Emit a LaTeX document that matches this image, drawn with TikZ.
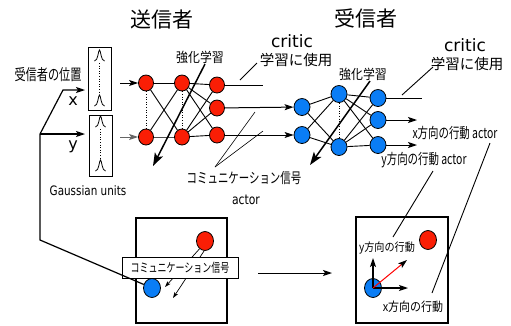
\documentclass[tikz,border=0pt]{standalone}
\usepackage{fontspec}
\usetikzlibrary{arrows.meta,shapes.geometric}
\newfontfamily\jp{Noto Sans CJK JP}
\newfontfamily\jpn[FakeStretch=0.72]{Noto Sans CJK JP}
\newfontfamily\jpm[FakeStretch=0.88]{Noto Sans CJK JP}
\newfontfamily\dv{DejaVu Sans}
\newfontfamily\dvn[FakeStretch=0.8]{DejaVu Sans}
\definecolor{nred}{RGB}{250,30,5}
\definecolor{nblue}{RGB}{10,125,245}
\newcommand{\fs}[1]{\fontsize{#1}{#1}\selectfont}
\tikzset{
  rn/.style={ellipse,draw,line width=0.8pt,fill=nred,minimum width=15pt,minimum height=16pt,inner sep=0pt},
  bn/.style={ellipse,draw,line width=0.8pt,fill=nblue,minimum width=16pt,minimum height=17pt,inner sep=0pt},
  bigred/.style={ellipse,draw,line width=0.8pt,fill=nred,minimum width=17pt,minimum height=19pt,inner sep=0pt},
  bigblue/.style={ellipse,draw,line width=0.8pt,fill=nblue,minimum width=17pt,minimum height=19pt,inner sep=0pt},
  wire/.style={line width=0.9pt},
  fine/.style={line width=0.6pt},
  arr/.style={line width=1pt,-{Stealth[length=9pt,width=6pt,inset=2pt]}},
  smallarr/.style={line width=0.7pt,-{Stealth[length=6pt,width=4pt,inset=1.5pt]}},
  bigarr/.style={line width=1.5pt,-{Stealth[length=13pt,width=9pt,inset=3pt]}},
  lbl/.style={inner sep=0pt,outer sep=0pt},
  gbox/.style={draw,line width=0.9pt,minimum width=23pt,inner sep=0pt},
  pane/.style={draw,line width=2.5pt,inner sep=0pt},
  bump/.pic={\draw[line width=0.8pt] (-5,5) .. controls (-1.5,5) and (-1.2,-6) .. (0,-6) .. controls (1.2,-6) and (1.5,5) .. (5,5);}
}
\begin{document}
\begin{tikzpicture}[x=1pt,y=-1pt]
\useasboundingbox[fill=white] (0,0) rectangle (511,325);

% titles
\node[lbl,font=\jp\fs{21}] (t1) at (162,20) {送信者};
\node[lbl,font=\jp\fs{21}] (t2) at (366,18) {受信者};

% left inputs
\node[lbl,font=\jpn\fs{15.5}] (pos) at (48,75) {受信者の位置};
\node[lbl,font=\dv\fs{16}] (lx) at (73,101) {x};
\node[lbl,font=\dv\fs{16}] (ly) at (73,147) {y};
\node[lbl,font=\dvn\fs{13}] (gu) at (88,191) {Gaussian units};

\node[gbox,minimum height=63pt] (g1) at (99.5,78.5) {};
\node[gbox,minimum height=61pt] (g2) at (100.5,145.5) {};
\pic at (99.5,56) {bump};
\pic at (99.5,101) {bump};
\draw[fine,dotted] (99.5,63) -- (99.5,94);
\pic at (100.5,122) {bump};
\pic at (100.5,166) {bump};
\draw[fine,dotted] (100.5,129) -- (100.5,158);

% sender network
\node[rn] (s11) at (146,83) {};
\node[rn] (s12) at (146,137) {};
\node[rn] (s21) at (182,83) {};
\node[rn] (s22) at (182,137) {};
\node[rn] (s31) at (217,85) {};
\node[rn] (s32) at (217,108) {};
\node[rn] (s33) at (217,135) {};

% receiver network
\node[bn] (r11) at (302,107) {};
\node[bn] (r12) at (302,135) {};
\node[bn] (r21) at (339,94) {};
\node[bn] (r22) at (339,147) {};
\node[bn] (r31) at (378,98) {};
\node[bn] (r32) at (378,120) {};
\node[bn] (r33) at (378,145) {};

% sender wires
\draw[wire] (s11) -- (s21);
\draw[wire,black!70] (s12) -- (s22);
\draw[wire] (s11) -- (s22);
\draw[wire] (s12) -- (s21);
\foreach \a in {s21,s22} \foreach \b in {s31,s32,s33} \draw[wire] (\a) -- (\b);
\draw[fine,dotted] (s11) -- (s12);
\draw[fine,dotted] (s21) -- (s22);

% receiver wires
\foreach \a in {r11,r12} \foreach \b in {r21,r22} \draw[wire] (\a) -- (\b);
\foreach \a in {r21,r22} \foreach \b in {r31,r32,r33} \draw[wire] (\a) -- (\b);
\draw[fine,dotted] (r21) -- (r22);

% inputs to sender
\coordinate (in1) at (120,83);
\coordinate (in2) at (120,137);
\draw[arr] (in1) -- (s11);
\draw[arr,black!60] (in2) -- (s12);

% sender outputs
\coordinate (so1) at (263,85);
\draw[wire] (s31) -- (so1);
\draw[arr] (s32) -- (r11);
\draw[arr] (s33) -- (r12);

% receiver outputs
\coordinate (ro1) at (422,98);
\coordinate (ro2) at (417,120);
\coordinate (ro3) at (417,145);
\draw[wire] (r31) -- (ro1);
\draw[arr] (r32) -- (ro2);
\draw[arr] (r33) -- (ro3);

% 強化学習
\node[lbl,font=\jpm\fs{13.5}] (rl1) at (200,57) {強化学習};
\node[lbl,font=\jpm\fs{13.5}] (rl2) at (363,74) {強化学習};
\coordinate (rl1a) at (205,64);
\coordinate (rl1b) at (153,166);
\coordinate (rl2a) at (370,81);
\coordinate (rl2b) at (310,165);
\draw[bigarr] (rl1a) -- (rl1b);
\draw[bigarr] (rl2a) -- (rl2b);

% critic labels
\node[lbl,font=\dv\fs{17}] (cr1) at (292,41) {critic};
\node[lbl,font=\jp\fs{14.5}] (cu1) at (296,60) {学習に使用};
\node[lbl,font=\dv\fs{17}] (cr2) at (465,45) {critic};
\node[lbl,font=\jp\fs{14.5}] (cu2) at (467,64) {学習に使用};
\coordinate (c1a) at (257,63);
\coordinate (c1b) at (240,80);
\coordinate (c2a) at (433,67);
\coordinate (c2b) at (402,95);
\draw[wire] (c1a) -- (c1b);
\draw[wire] (c2a) -- (c2b);

% communication signal labels
\node[lbl,font=\jpn\fs{14.5}] (cs) at (244,178) {コミュニケーション信号};
\node[lbl,font=\dvn\fs{13.5}] (ac) at (246,200) {actor};
\coordinate (csp) at (215,167);
\coordinate (cs1) at (255,112);
\coordinate (cs2) at (263,131);
\draw[fine] (csp) -- (cs1);
\draw[fine] (csp) -- (cs2);

% receiver action labels
\node[lbl,font=\jpn\fs{14.5}] (xa) at (455,133) {x方向の行動 actor};
\node[lbl,font=\jpn\fs{14.5}] (ya) at (424,160) {y方向の行動 actor};

% bottom left pane
\node[pane,minimum width=91pt,minimum height=105pt] (p1) at (181.5,270.5) {};
\node[bigred] (br1) at (205,241) {};
\node[bigblue] (bb1) at (152,288) {};
\draw[smallarr] (br1.235) -- (165,287);
\draw[smallarr] (br1.265) -- (173,298);
\node[draw,fill=white,line width=0.9pt,minimum width=116pt,minimum height=21pt,inner sep=0pt,font=\jpn\fs{12.5}] (csb) at (180,268) {コミュニケーション信号};

% input wiring
\coordinate (j1) at (40,134);
\coordinate (j2) at (40,240);
\coordinate (j3) at (63,90);
\coordinate (ex) at (85,90);
\coordinate (ey) at (85,134);
\draw[line width=1.2pt] (bb1) -- (j2) -- (j1);
\draw[line width=1.2pt,-{Stealth[length=9pt,width=6pt,inset=2pt]}] (j1) -- (j3) -- (ex);
\draw[line width=1.2pt,-{Stealth[length=9pt,width=6pt,inset=2pt]}] (j1) -- (ey);

% middle arrow
\coordinate (ma) at (258,273);
\coordinate (mb) at (332,273);
\draw[arr] (ma) -- (mb);

% bottom right pane
\node[pane,minimum width=92pt,minimum height=106pt] (p2) at (402,270) {};
\node[bigred] (br2) at (428,240) {};
\node[bigblue] (bb2) at (373,288) {};
\coordinate (up) at (373,258);
\coordinate (rt) at (408,288);
\coordinate (dg) at (407,260);
\draw[line width=1.2pt,-{Stealth[length=9pt,width=6pt,inset=2pt]}] (bb2.center) -- (up);
\draw[line width=1.2pt,-{Stealth[length=9pt,width=6pt,inset=2pt]}] (bb2.center) -- (rt);
\draw[line width=1pt,red,-{Stealth[length=9pt,width=6pt,inset=2pt,black]}] (bb2.center) -- (dg);
\node[lbl,font=\jpm\fs{11.5}] (ys) at (387,248) {y方向の行動};
\node[lbl,font=\jpm\fs{12.5}] (xs) at (413,307) {x方向の行動};
\coordinate (yl1) at (433,171);
\coordinate (yl2) at (393,237);
\coordinate (xl1) at (490,143);
\coordinate (xl2) at (432,293);
\draw[wire] (yl1) -- (yl2);
\draw[wire] (xl1) -- (xl2);
\end{tikzpicture}
\end{document}
